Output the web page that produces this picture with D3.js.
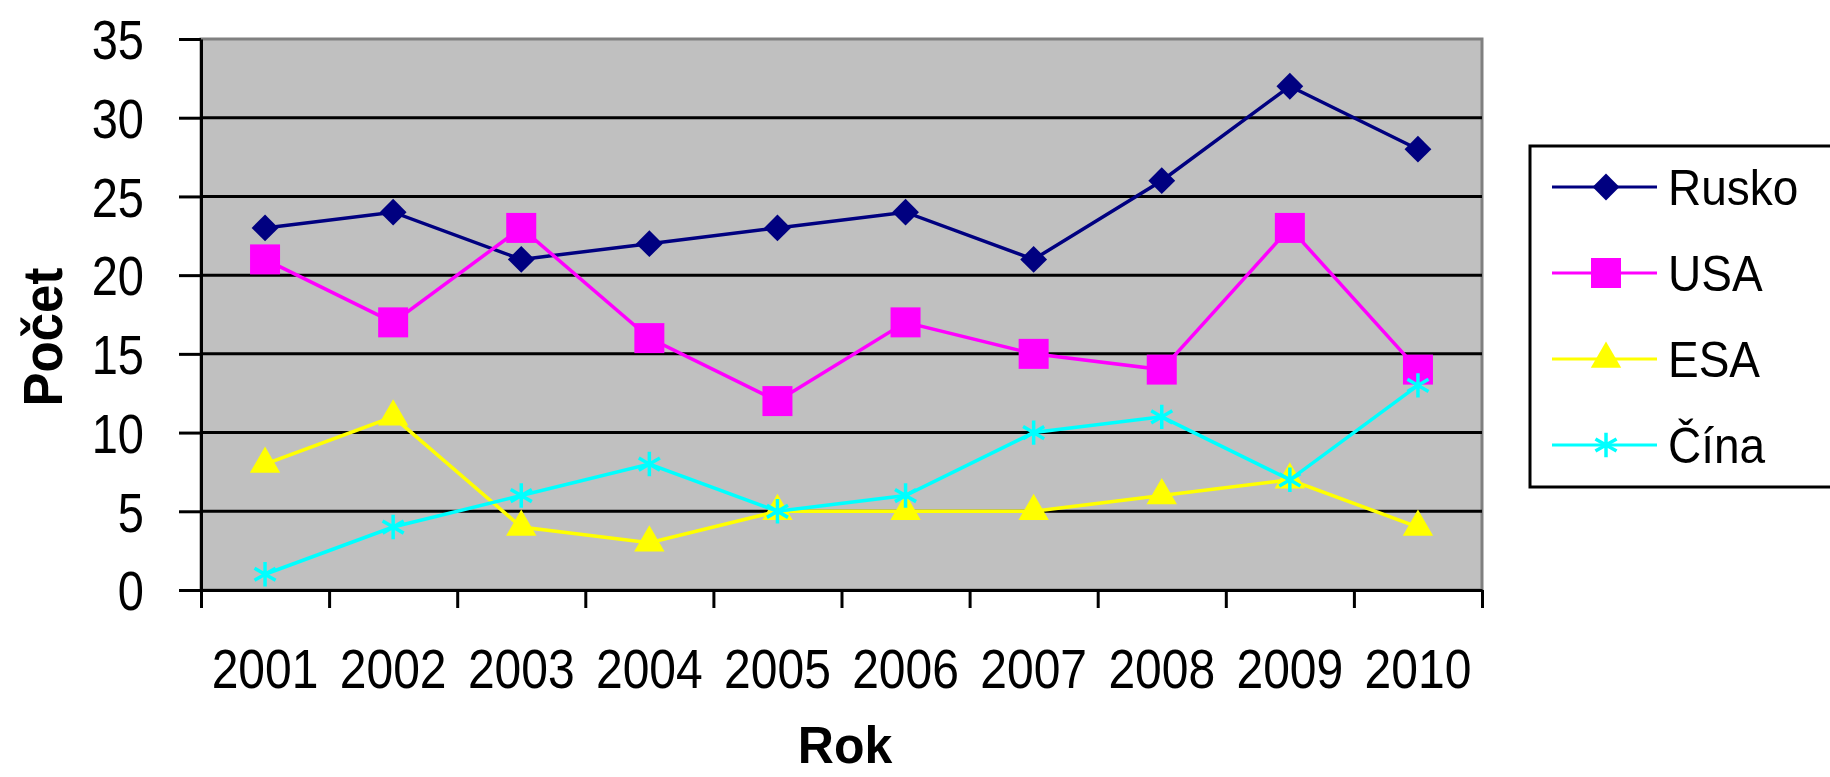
<!DOCTYPE html>
<html lang="cs">
<head>
    <meta charset="UTF-8">
    <title>Počet startů</title>
    <style>
        body { margin: 0; background: #fff; }
        svg text { font-family: "Liberation Sans", Arial, sans-serif; fill: #000; }
        .axis path, .axis line { stroke: #000; stroke-width: 3; }
        .grid line { stroke: #000; stroke-width: 3; }
    </style>
</head>
<body>
<div id="sv"></div>
<script src="https://d3js.org/d3.v7.min.js"></script>
<script>
    // data
    var years = ["2001","2002","2003","2004","2005","2006","2007","2008","2009","2010"];
    var rusko = [23,24,21,22,23,24,21,26,32,28];
    var usa   = [21,17,23,16,12,17,15,14,23,14];
    var esa   = [8,11,4,3,5,5,5,6,7,4];
    var cina  = [1,4,6,8,5,6,10,11,7,13];
    var yTicks = [0,5,10,15,20,25,30,35];

    var series = [
        {name: "Rusko", values: rusko, color: "#000080", sym: "diamond"},
        {name: "USA",   values: usa,   color: "#ff00ff", sym: "square"},
        {name: "ESA",   values: esa,   color: "#ffff00", sym: "triangle"},
        {name: "Čína",  values: cina,  color: "#00ffff", sym: "star"}
    ];

    var W = 1830, H = 777;
    // plot area edges (window.top is reserved, so prefixed names)
    var pLeft = 201, pRight = 1482, pTop = 39, pBottom = 590;

    var svg = d3.select("#sv").append("svg")
        .attr("width", W).attr("height", H);

    var x = d3.scaleBand().domain(years).range([pLeft, pRight]);
    var xb = d3.scaleLinear().domain([0, years.length]).range([pLeft, pRight]);
    var y = d3.scaleLinear().domain([0, 35]).range([pBottom, pTop]);

    // plot area
    svg.append("rect")
        .attr("x", pLeft).attr("y", pTop)
        .attr("width", pRight - pLeft).attr("height", pBottom - pTop)
        .attr("fill", "#c0c0c0")
        .attr("stroke", "#808080").attr("stroke-width", 3);

    // gridlines
    svg.append("g").attr("class", "grid")
        .selectAll("line").data(yTicks.filter(d => d > 0 && d < 35))
        .enter().append("line")
        .attr("x1", pLeft).attr("x2", pRight)
        .attr("y1", d => y(d)).attr("y2", d => y(d));

    // y axis
    var yg = svg.append("g").attr("class", "axis")
        .attr("transform", `translate(${pLeft},0)`)
        .call(d3.axisLeft(y).tickValues(yTicks).tickSize(22).tickPadding(35).tickSizeOuter(0));
    yg.selectAll("text")
        .attr("font-size", 47)
        .attr("dy", "0.36em")
        .attr("transform", "scale(1,1.17)");

    // x axis: tick marks at category boundaries
    svg.append("g").attr("class", "axis")
        .attr("transform", `translate(0,${pBottom})`)
        .call(d3.axisBottom(xb).tickValues(d3.range(0, years.length + 1)).tickSize(18).tickFormat("").tickSizeOuter(0));
    // x labels centred in categories
    var xg = svg.append("g").attr("class", "axis")
        .attr("transform", `translate(0,${pBottom})`)
        .call(d3.axisBottom(x).tickSize(0).tickPadding(0));
    xg.select(".domain").remove();
    xg.selectAll("text")
        .attr("font-size", 48)
        .attr("dy", 0)
        .attr("y", (688 - pBottom) / 1.17)
        .attr("transform", "scale(1,1.17)");

    // axis titles
    svg.append("text")
        .attr("transform", "translate(62,337) rotate(-90) scale(1,1.1)")
        .attr("text-anchor", "middle")
        .attr("font-weight", "bold").attr("font-size", 51)
        .text("Počet");
    svg.append("text")
        .attr("transform", "translate(845,763) scale(1,1.05)")
        .attr("text-anchor", "middle")
        .attr("font-weight", "bold").attr("font-size", 50)
        .text("Rok");

    function marker(g, s) {
        if (s.sym === "diamond") {
            g.append("path").attr("d", d3.symbol(d3.symbolSquare, 360)())
                .attr("transform", "rotate(45)").attr("fill", s.color);
        } else if (s.sym === "square") {
            g.append("path").attr("d", d3.symbol(d3.symbolSquare, 900)()).attr("fill", s.color);
        } else if (s.sym === "triangle") {
            g.append("path").attr("d", d3.symbol(d3.symbolTriangle, 400)()).attr("fill", s.color);
        } else {
            g.append("path").attr("d", d3.symbol(d3.symbolAsterisk, 420)())
                .attr("fill", "none").attr("stroke", s.color).attr("stroke-width", 3.5);
        }
    }

    var line = d3.line()
        .x((d, i) => x(years[i]) + x.bandwidth() / 2)
        .y(d => y(d));

    series.forEach(function (s) {
        var g = svg.append("g");
        g.append("path")
            .attr("d", line(s.values))
            .attr("fill", "none")
            .attr("stroke", s.color)
            .attr("stroke-width", 3.5);
        g.selectAll("g.pt").data(s.values).enter().append("g")
            .attr("class", "pt")
            .attr("transform", (d, i) => `translate(${x(years[i]) + x.bandwidth() / 2},${y(d)})`)
            .each(function () { marker(d3.select(this), s); });
    });

    // legend
    var lg = svg.append("g");
    lg.append("rect")
        .attr("x", 1530).attr("y", 146)
        .attr("width", 330).attr("height", 341)
        .attr("fill", "#fff").attr("stroke", "#000").attr("stroke-width", 3);
    var ly = d3.scalePoint().domain(series.map(s => s.name)).range([187, 445]);
    series.forEach(function (s) {
        var yy = ly(s.name);
        lg.append("line")
            .attr("x1", 1552).attr("x2", 1657)
            .attr("y1", yy).attr("y2", yy)
            .attr("stroke", s.color).attr("stroke-width", 3);
        var m = lg.append("g").attr("transform", `translate(1606,${yy})`);
        marker(m, s);
        lg.append("text")
            .attr("transform", `translate(1668,${yy + 18}) scale(1,1.1)`)
            .attr("font-size", 46)
            .text(s.name);
    });
</script>
</body>
</html>
